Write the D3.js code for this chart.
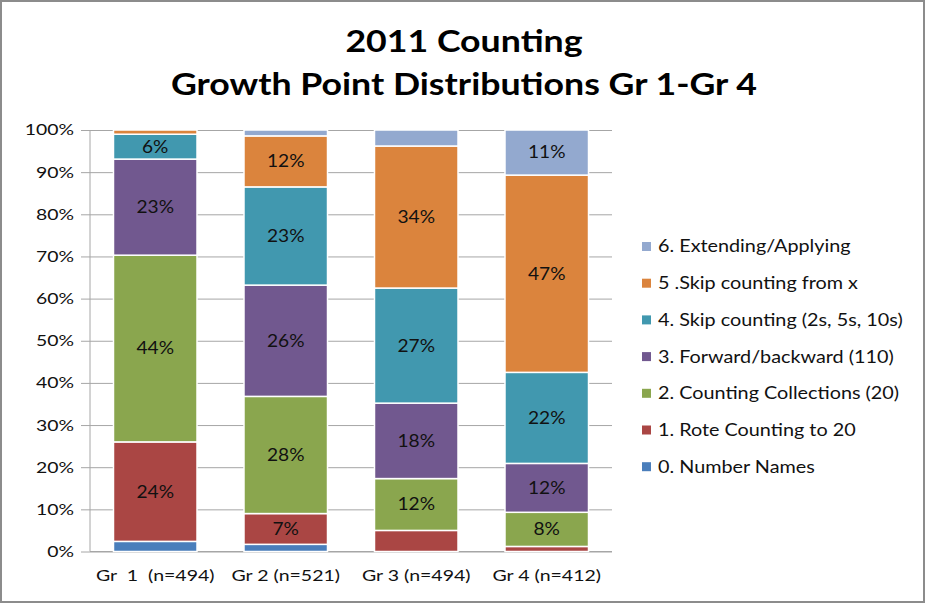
<!DOCTYPE html>
<html>
<head>
<meta charset="utf-8">
<script src="https://cdn.jsdelivr.net/npm/d3@7"></script>
<style>
  body { margin: 0; background: #fff; }
  text { font-family: Lato, "Open Sans", sans-serif; white-space: pre; }
</style>
</head>
<body>
<svg id="chart"></svg>
<script>
// categories (grades) and growth point series, percent of students
var grades = ["Gr  1  (n=494)", "Gr 2 (n=521)", "Gr 3 (n=494)", "Gr 4 (n=412)"];
var seriesNames = [
    "0. Number Names",
    "1. Rote Counting to 20",
    "2. Counting Collections (20)",
    "3. Forward/backward (110)",
    "4. Skip counting (2s, 5s, 10s)",
    "5 .Skip counting from x",
    "6. Extending/Applying"
];
var numberNames   = [2.4, 1.7, 0.0, 0.0];
var roteCounting  = [23.6, 7.3, 5.0, 1.2];
var collections   = [44.3, 27.8, 12.3, 8.1];
var forwardBack   = [22.8, 26.4, 17.9, 11.6];
var skipCounting  = [5.9, 23.3, 27.3, 21.6];
var skipFromX     = [1.0, 12.1, 33.7, 46.8];
var extending     = [0.0, 1.4, 3.8, 10.7];
var yTicks = [0, 0.1, 0.2, 0.3, 0.4, 0.5, 0.6, 0.7, 0.8, 0.9, 1.0];

var colors = ["#4a7ebb", "#aa4644", "#8aa64e", "#71588f", "#4198af", "#db843d", "#93a9cf"];

var allSeries = [numberNames, roteCounting, collections, forwardBack, skipCounting, skipFromX, extending];
var rows = grades.map(function(g, i) {
    var r = { grade: g };
    seriesNames.forEach(function(s, k) { r[s] = allSeries[k][i]; });
    return r;
});

// the source picture has wide-ish text, so widen glyphs horizontally
function stretch(sel, sx) {
    sel.each(function() {
        var t = d3.select(this);
        var x0 = +t.attr("x") || 0;
        t.attr("x", x0 / sx).attr("transform", "scale(" + sx + ",1)");
    });
}

const width = 927;
const height = 605;
const marginLeft = 90;
const plotRight = 612;
const marginTop = 130;
const plotBottom = 551.5;

var svg = d3.select("#chart").attr("width", width).attr("height", height);

// outer frame
svg.append("rect")
    .attr("x", 1).attr("y", 1).attr("width", width - 4).attr("height", height - 4)
    .attr("fill", "#fff").attr("stroke", "#8c8c8c").attr("stroke-width", 2);

// title
var title = svg.append("g");
title.append("text").attr("x", 464).attr("y", 52).attr("text-anchor", "middle")
    .attr("font-size", 30).attr("font-weight", "bold").text("2011 Counting");
title.append("text").attr("x", 464).attr("y", 95).attr("text-anchor", "middle")
    .attr("font-size", 30).attr("font-weight", "bold").text("Growth Point Distributions Gr 1-Gr 4");
stretch(title.selectAll("text"), 1.19);

const x = d3.scaleBand(grades, [marginLeft, plotRight]).paddingInner(0.36).paddingOuter(0.18);
const y = d3.scaleLinear([0, 1], [plotBottom, marginTop]);

// gridlines + y axis
svg.append("g")
    .attr("transform", "translate(" + marginLeft + ",0)")
    .call(d3.axisLeft(y).tickValues(yTicks).tickFormat(d3.format(".0%")).tickSize(9).tickPadding(7))
    .call(function(g) {
        g.selectAll(".tick line").clone()
            .attr("x1", 0).attr("x2", plotRight - marginLeft);
        g.selectAll("line").attr("stroke", "#a6a6a6");
        g.select(".domain").attr("stroke", "#a6a6a6").attr("d", "M0," + marginTop + "V" + plotBottom);
        g.selectAll("text").attr("font-size", 15.5).attr("fill", "#111")
            .attr("font-family", "Lato, 'Open Sans', sans-serif");
        stretch(g.selectAll("text"), 1.25);
    });

// x axis
svg.append("g")
    .attr("transform", "translate(0," + plotBottom + ")")
    .call(d3.axisBottom(x).tickSize(0).tickPadding(18))
    .call(function(g) {
        g.select(".domain").attr("stroke", "#a6a6a6").attr("d", "M" + marginLeft + ",0H" + plotRight);
        g.selectAll("text").attr("font-size", 16).attr("fill", "#111")
            .attr("font-family", "Lato, 'Open Sans', sans-serif");
        stretch(g.selectAll("text"), 1.22);
    });

var stack = d3.stack().keys(seriesNames).value(function(d, key) { return d[key] / 100; });
var layers = stack(rows);

var groups = svg.append("g").selectAll("g").data(layers).join("g")
    .attr("fill", function(d, i) { return colors[i]; });

groups.selectAll("rect").data(function(d) { return d; }).join("rect")
    .attr("x", function(d) { return x(d.data.grade); })
    .attr("y", function(d) { return y(d[1]); })
    .attr("width", x.bandwidth())
    .attr("height", function(d) { return Math.max(0, y(d[0]) - y(d[1])); })
    .attr("stroke", "#fff").attr("stroke-width", 1.5);

// data labels on larger segments
var labels = groups.selectAll("text").data(function(d) {
        return d.filter(function(p) { return (p[1] - p[0]) >= 0.055; });
    }).join("text")
    .attr("x", function(d) { return x(d.data.grade) + x.bandwidth() / 2; })
    .attr("y", function(d) { return (y(d[0]) + y(d[1])) / 2; })
    .attr("dy", "0.36em")
    .attr("text-anchor", "middle")
    .attr("font-size", 16.5)
    .attr("fill", "#111")
    .text(function(d) { return Math.round((d[1] - d[0]) * 100) + "%"; });
stretch(labels, 1.16);

// legend (reverse order, top = series 6)
var legend = svg.append("g").selectAll("g").data(seriesNames.slice().reverse()).join("g")
    .attr("transform", function(d, i) { return "translate(642," + (246.5 + i * 36.7) + ")"; });
legend.append("rect").attr("x", 0).attr("y", -4.5).attr("width", 9).attr("height", 9)
    .attr("fill", function(d) { return colors[seriesNames.indexOf(d)]; });
var legendText = legend.append("text").attr("x", 16).attr("dy", "0.36em").attr("font-size", 16.5).attr("fill", "#111")
    .text(function(d) { return d; });
stretch(legendText, 1.2);
</script>
</body>
</html>
